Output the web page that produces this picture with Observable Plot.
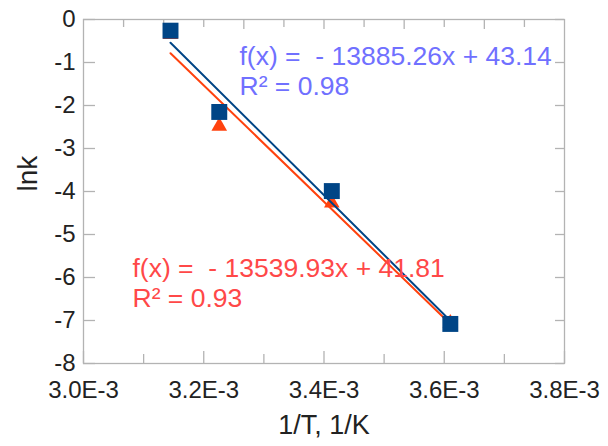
<!DOCTYPE html>
<html><head><meta charset="utf-8">
<script src="https://cdn.jsdelivr.net/npm/d3@7"></script>
<script src="https://cdn.jsdelivr.net/npm/@observablehq/plot@0.6"></script>
<style>
body{margin:0;background:#fff;}
svg text, svg tspan{white-space:pre;}
</style></head><body><div id="chart"></div>
<script>
// data
const invT = [3.1447e-3, 3.2258e-3, 3.4130e-3, 3.6101e-3];
const lnkBlue = [-0.26, -2.15, -3.99, -7.08];
const lnkOrange = [-0.35, -2.48, -4.27, -7.06];
const xTickValues = [3.0e-3, 3.2e-3, 3.4e-3, 3.6e-3, 3.8e-3];
const xTickLabels = ["3.0E-3", "3.2E-3", "3.4E-3", "3.6E-3", "3.8E-3"];
const xMinorTicks = [3.1e-3, 3.3e-3, 3.5e-3, 3.7e-3];
const yTickValues = [0, -1, -2, -3, -4, -5, -6, -7, -8];
const yTickLabels = ["0", "-1", "-2", "-3", "-4", "-5", "-6", "-7", "-8"];
const eqBlue = ["f(x) =  - 13885.26x + 43.14", "R² = 0.98"];
const eqOrange = ["f(x) =  - 13539.93x + 41.81", "R² = 0.93"];
const xLabel = "1/T, 1/K";
const yLabel = "lnk";

const W = 608, H = 446;
const mL = 83, mR = 44, mT = 19, mB = 83;
const pW = W - mL - mR, pH = H - mT - mB;
const gray = "#b3b3b3";
const blue = "#004586", orange = "#ff420e";
const font = "'Liberation Sans', Arial, sans-serif";

const blueData = invT.map((x, i) => ({x, y: lnkBlue[i]}));
const orangeData = invT.map((x, i) => ({x, y: lnkOrange[i]}));
const topTicks = d3.range(1, 12).map(i => xTickValues[0] + i * (xTickValues[4] - xTickValues[0]) / 12);

const chart = Plot.plot({
  width: W, height: H,
  marginLeft: mL, marginRight: mR, marginTop: mT, marginBottom: mB,
  style: {fontFamily: font, fontSize: "24px", color: "#222", background: "#fff"},
  x: {domain: [3.0e-3, 3.8e-3]},
  y: {domain: [-8, 0]},
  marks: [
    Plot.frame({stroke: gray, strokeWidth: 1.3}),
    Plot.tickX(xTickValues, {x: d => d, stroke: gray, strokeWidth: 1.3, insetTop: pH - 12}),
    Plot.tickX(xMinorTicks, {x: d => d, stroke: gray, strokeWidth: 1.3, insetTop: pH - 9}),
    Plot.tickX(topTicks.filter((d, i) => i % 2 === 1), {x: d => d, stroke: gray, strokeWidth: 1.3, insetBottom: pH - 10}),
    Plot.tickX(topTicks.filter((d, i) => i % 2 === 0), {x: d => d, stroke: gray, strokeWidth: 1.3, insetBottom: pH - 8}),
    Plot.tickY(yTickValues, {y: d => d, stroke: gray, strokeWidth: 1.3, insetRight: pW - 12}),
    Plot.tickY(yTickValues, {y: d => d, stroke: gray, strokeWidth: 1.3, insetLeft: pW - 9}),
    Plot.axisX(xTickValues, {tickSize: 0, tickPadding: 17, tickFormat: d => xTickLabels[xTickValues.indexOf(d)], label: null, fontSize: 24}),
    Plot.axisY(yTickValues, {tickSize: 0, tickPadding: 8, tickFormat: d => yTickLabels[yTickValues.indexOf(d)], label: null, fontSize: 24}),
    Plot.text([yLabel], {frameAnchor: "left", dx: -55, rotate: -90, fontSize: 28, fill: "#222"}),
    Plot.text([xLabel], {frameAnchor: "bottom", dy: 70, fontSize: 27, fill: "#222"}),
    Plot.linearRegressionY(orangeData, {x: "x", y: "y", ci: 0, stroke: orange, strokeWidth: 2}),
    Plot.dot(orangeData, {x: "x", y: "y", symbol: "triangle", r: 5.8, fill: orange, stroke: "none"}),
    Plot.linearRegressionY(blueData, {x: "x", y: "y", ci: 0, stroke: blue, strokeWidth: 2}),
    Plot.dot(blueData, {x: "x", y: "y", symbol: "square", r: 9, fill: blue, stroke: "none"}),
    Plot.text([eqBlue.join("\n")], {frameAnchor: "top-left", dx: 156, dy: 24, textAnchor: "start", lineAnchor: "top", lineHeight: 1.13, fontSize: 26.5, fill: "#7070ff"}),
    Plot.text([eqOrange.join("\n")], {frameAnchor: "top-left", dx: 49, dy: 236, textAnchor: "start", lineAnchor: "top", lineHeight: 1.13, fontSize: 26.5, fill: "#ff4848"})
  ]
});
chart.setAttributeNS("http://www.w3.org/XML/1998/namespace", "xml:space", "preserve");
document.getElementById("chart").appendChild(chart);
</script></body></html>
